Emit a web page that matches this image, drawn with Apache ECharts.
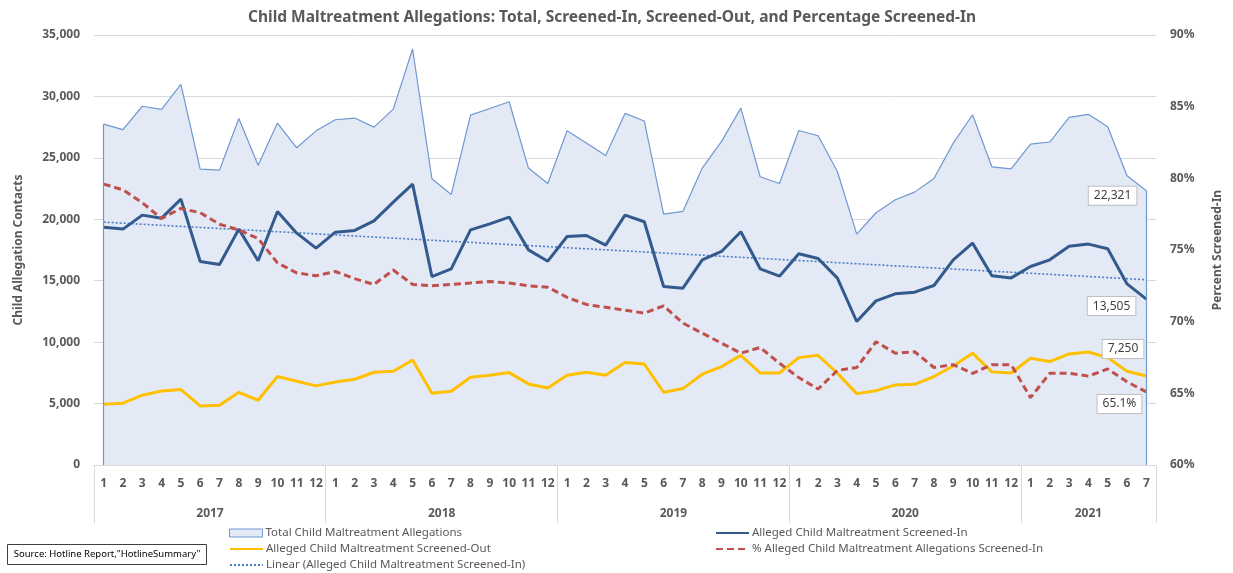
<!DOCTYPE html>
<html>
<head>
<meta charset="utf-8">
<script src="https://cdn.jsdelivr.net/npm/echarts@6/dist/echarts.min.js"></script>
<style>
  html, body { margin: 0; padding: 0; background: #fff; }
  #chart { width: 1233px; height: 573px; }
</style>
</head>
<body>
<div id="chart"></div>
<script>
// categories: months grouped by year
var years = ['2017', '2018', '2019', '2020', '2021'];
var monthsPerYear = [12, 12, 12, 12, 7];

// series values
var total = [
  27750, 27300, 29200, 28950, 30980, 24080, 24000, 28200, 24400, 27830, 25820, 27200,
  28100, 28240, 27500, 28970, 33860, 23300, 22020, 28480, 29020, 29570, 24170, 22910,
  27200, 26200, 25200, 28620, 28000, 20420, 20640, 24170, 26340, 29050, 23460, 22910,
  27230, 26800, 23890, 18790, 20530, 21590, 22210, 23320, 26200, 28510, 24270, 24110,
  26120, 26290, 28290, 28540, 27530, 23540, 22321
];
var screenedIn = [
  19360, 19200, 20340, 20090, 21640, 16560, 16320, 19200, 16620, 20640, 18870, 17650,
  18950, 19090, 19870, 21400, 22860, 15340, 15970, 19140, 19630, 20180, 17510, 16590,
  18600, 18680, 17900, 20340, 19800, 14530, 14390, 16700, 17380, 18980, 15970, 15370,
  17190, 16810, 15210, 11680, 13360, 13930, 14070, 14610, 16700, 18060, 15400, 15230,
  16160, 16700, 17810, 17980, 17600, 14740, 13505
];
var screenedOut = [
  4940, 5030, 5680, 6030, 6140, 4810, 4860, 5920, 5270, 7200, 6820, 6440,
  6760, 6980, 7550, 7630, 8550, 5840, 6000, 7140, 7310, 7520, 6600, 6270,
  7310, 7550, 7310, 8340, 8220, 5920, 6220, 7390, 8010, 8930, 7490, 7490,
  8740, 8930, 7470, 5810, 6050, 6520, 6570, 7200, 8060, 9100, 7580, 7490,
  8690, 8420, 9040, 9200, 8740, 7630, 7250
];
var pctScreenedIn = [
  79.6, 79.2, 78.3, 77.2, 77.9, 77.6, 76.8, 76.4, 75.8, 74.1, 73.4, 73.2,
  73.5, 73.0, 72.6, 73.6, 72.6, 72.5, 72.6, 72.7, 72.8, 72.7, 72.5, 72.4,
  71.7, 71.2, 71.0, 70.8, 70.6, 71.1, 69.9, 69.2, 68.5, 67.8, 68.2, 67.1,
  66.1, 65.3, 66.6, 66.8, 68.6, 67.8, 67.9, 66.8, 67.0, 66.4, 67.0, 67.0,
  64.7, 66.4, 66.4, 66.2, 66.7, 65.8, 65.1
];

var NAME_TOTAL = 'Total Child Maltreatment Allegations';
var NAME_IN = 'Alleged Child Maltreatment Screened-In';
var NAME_OUT = 'Alleged Child Maltreatment Screened-Out';
var NAME_PCT = '% Alleged Child Maltreatment Allegations Screened-In';
var NAME_TREND = 'Linear (Alleged Child Maltreatment Screened-In)';

// month / year categories
var monthCats = [], yearCats = [], yearStart = [], yearLabelIdx = {};
years.forEach(function (y, k) {
  yearStart.push(monthCats.length);
  var mid = monthCats.length + Math.ceil((monthsPerYear[k] - 1) / 2);
  yearLabelIdx[mid] = (monthsPerYear[k] % 2 === 0); // even count -> shift half band left
  for (var m = 1; m <= monthsPerYear[k]; m++) {
    monthCats.push(String(m));
    yearCats.push(y);
  }
});

// Excel-style linear trend of screened-in, fitted on the data
function linearFit(arr) {
  var n = arr.length, sx = 0, sy = 0, sxy = 0, sxx = 0;
  arr.forEach(function (v, i) { sx += i; sy += v; sxy += i * v; sxx += i * i; });
  var b = (n * sxy - sx * sy) / (n * sxx - sx * sx);
  var a = (sy - b * sx) / n;
  return arr.map(function (v, i) { return +(a + b * i).toFixed(1); });
}
var trend = linearFit(screenedIn);

var GREY = '#595959';
var FONT = 'Noto Sans';

function fmtThousands(v) { return String(Math.round(v)).replace(/\B(?=(\d{3})+(?!\d))/g, ','); }

function withLastLabel(arr, text, distance, offset) {
  return arr.map(function (v, i) {
    if (i !== arr.length - 1) return v;
    return {
      value: v,
      label: {
        show: true, position: 'left', distance: distance, offset: offset,
        formatter: text, color: '#404040', fontFamily: FONT, fontSize: 12,
        backgroundColor: '#fff', borderColor: '#BFBFBF', borderWidth: 1, padding: [3, 5, 3, 5]
      }
    };
  });
}

// one legend block per entry, Excel-like two columns
var hiddenSymbol = { color: 'transparent', borderColor: 'transparent', borderWidth: 0, opacity: 0 };
function legendItem(left, rowCenter, item) {
  return {
    left: left, top: rowCenter - 7, padding: 0, orient: 'horizontal',
    itemWidth: 33, itemHeight: 8, itemGap: 0, selectedMode: false,
    textStyle: { color: GREY, fontFamily: FONT, fontSize: 11.5, padding: [0, 0, 0, -2] },
    data: [item]
  };
}

var chart = echarts.init(document.getElementById('chart'), null, { renderer: 'canvas' });

chart.setOption({
  animation: false,
  backgroundColor: '#fff',
  title: {
    text: 'Child Maltreatment Allegations: Total, Screened-In, Screened-Out, and Percentage Screened-In',
    left: 243, top: 5,
    textStyle: { color: GREY, fontFamily: FONT, fontSize: 15.5, fontWeight: 'bold' }
  },
  grid: { left: 94, right: 77, top: 35, bottom: 108, containLabel: false },
  legend: [
    legendItem(229, 534, { name: NAME_TOTAL, icon: 'rect', itemStyle: { color: '#E4EAF5', borderColor: '#6F98D0', borderWidth: 1 } }),
    legendItem(229, 550, { name: NAME_OUT, itemStyle: hiddenSymbol }),
    legendItem(229, 566, { name: NAME_TREND, itemStyle: hiddenSymbol }),
    legendItem(715, 534, { name: NAME_IN, itemStyle: hiddenSymbol }),
    legendItem(715, 550, { name: NAME_PCT, itemStyle: hiddenSymbol })
  ],
  xAxis: [
    {
      type: 'category', data: monthCats, position: 'bottom', boundaryGap: true,
      axisLine: { show: true, lineStyle: { color: '#D9D9D9' } },
      axisTick: { show: false },
      axisLabel: { interval: 0, margin: 13, color: GREY, fontFamily: FONT, fontSize: 12, fontWeight: 'bold' }
    },
    {
      type: 'category', data: yearCats, position: 'bottom', boundaryGap: true,
      axisLine: { show: false },
      axisTick: {
        show: true, length: 58, lineStyle: { color: '#D9D9D9' },
        interval: function (i) { return yearStart.indexOf(i) >= 0; }
      },
      axisLabel: {
        margin: 43,
        interval: function (i) { return yearLabelIdx.hasOwnProperty(i); },
        formatter: function (v, i) { return yearLabelIdx[i] ? '{s|' + v + '}' : '{c|' + v + '}'; },
        rich: {
          s: { padding: [0, 19, 0, 0], color: GREY, fontFamily: FONT, fontSize: 12, fontWeight: 'bold' },
          c: { color: GREY, fontFamily: FONT, fontSize: 12, fontWeight: 'bold' }
        }
      }
    }
  ],
  yAxis: [
    {
      type: 'value', min: 0, max: 35000, interval: 5000,
      name: 'Child Allegation Contacts', nameLocation: 'middle', nameGap: 69,
      nameTextStyle: { color: GREY, fontFamily: FONT, fontSize: 12, fontWeight: 'bold' },
      axisLine: { show: false }, axisTick: { show: false },
      axisLabel: { margin: 14, color: GREY, fontFamily: FONT, fontSize: 12, fontWeight: 'bold', formatter: fmtThousands },
      splitLine: { lineStyle: { color: '#D9D9D9' } }
    },
    {
      type: 'value', min: 60, max: 90, interval: 5, position: 'right',
      name: 'Percent Screened-In', nameLocation: 'middle', nameGap: 56,
      nameTextStyle: { color: GREY, fontFamily: FONT, fontSize: 12, fontWeight: 'bold' },
      axisLine: { show: false }, axisTick: { show: false },
      axisLabel: { margin: 14, color: GREY, fontFamily: FONT, fontSize: 12, fontWeight: 'bold', formatter: '{value}%' },
      splitLine: { show: false }
    }
  ],
  series: [
    {
      name: NAME_TOTAL, type: 'line', xAxisIndex: 0, yAxisIndex: 0, z: 1,
      data: withLastLabel(total, fmtThousands(total[total.length - 1]), 10, [0, 5]),
      symbol: 'circle', symbolSize: 0, showSymbol: true, showAllSymbol: true,
      lineStyle: { color: '#6F98D0', width: 1.2 },
      itemStyle: { color: '#6F98D0' },
      areaStyle: { color: '#E4EAF5', opacity: 1 },
      markLine: {
        silent: true, symbol: 'none', label: { show: false },
        lineStyle: { color: '#6F98D0', width: 1.2, type: 'solid' },
        data: [
          [{ coord: [0, 0] }, { coord: [0, total[0]] }],
          [{ coord: [total.length - 1, 0] }, { coord: [total.length - 1, total[total.length - 1]] }]
        ]
      }
    },
    {
      name: NAME_IN, type: 'line', xAxisIndex: 0, yAxisIndex: 0, z: 3,
      data: withLastLabel(screenedIn, fmtThousands(screenedIn[screenedIn.length - 1]), 11, [0, 7]),
      symbol: 'circle', symbolSize: 0, showSymbol: true, showAllSymbol: true,
      lineStyle: { color: '#335A8C', width: 3 }, itemStyle: { color: '#335A8C' }
    },
    {
      name: NAME_OUT, type: 'line', xAxisIndex: 0, yAxisIndex: 0, z: 3,
      data: withLastLabel(screenedOut, fmtThousands(screenedOut[screenedOut.length - 1]), 3, [0, -27]),
      symbol: 'circle', symbolSize: 0, showSymbol: true, showAllSymbol: true,
      lineStyle: { color: '#FFC000', width: 3 }, itemStyle: { color: '#FFC000' }
    },
    {
      name: NAME_PCT, type: 'line', xAxisIndex: 0, yAxisIndex: 1, z: 4,
      data: withLastLabel(pctScreenedIn, pctScreenedIn[pctScreenedIn.length - 1].toFixed(1) + '%', 5, [0, 12]),
      symbol: 'circle', symbolSize: 0, showSymbol: true, showAllSymbol: true,
      lineStyle: { color: '#C0504D', width: 3, type: [7, 4] }, itemStyle: { color: '#C0504D' }
    },
    {
      name: NAME_TREND, type: 'line', xAxisIndex: 0, yAxisIndex: 0, z: 2,
      data: trend, symbol: 'none', showSymbol: false,
      lineStyle: { color: '#4A7EC6', width: 1.6, type: [2, 2] }, itemStyle: { color: '#4A7EC6' }
    }
  ],
  graphic: [
    {
      type: 'group', left: 7, top: 544,
      children: [
        { type: 'rect', shape: { x: 0, y: 0, width: 199, height: 20 }, style: { fill: '#fff', stroke: '#404040', lineWidth: 1 } },
        { type: 'text', x: 99.5, y: 10, style: { text: 'Source: Hotline Report,"HotlineSummary"', fill: '#000', font: '9.5px "Noto Sans"', align: 'center', verticalAlign: 'middle' } }
      ]
    }
  ]
});
</script>
</body>
</html>
